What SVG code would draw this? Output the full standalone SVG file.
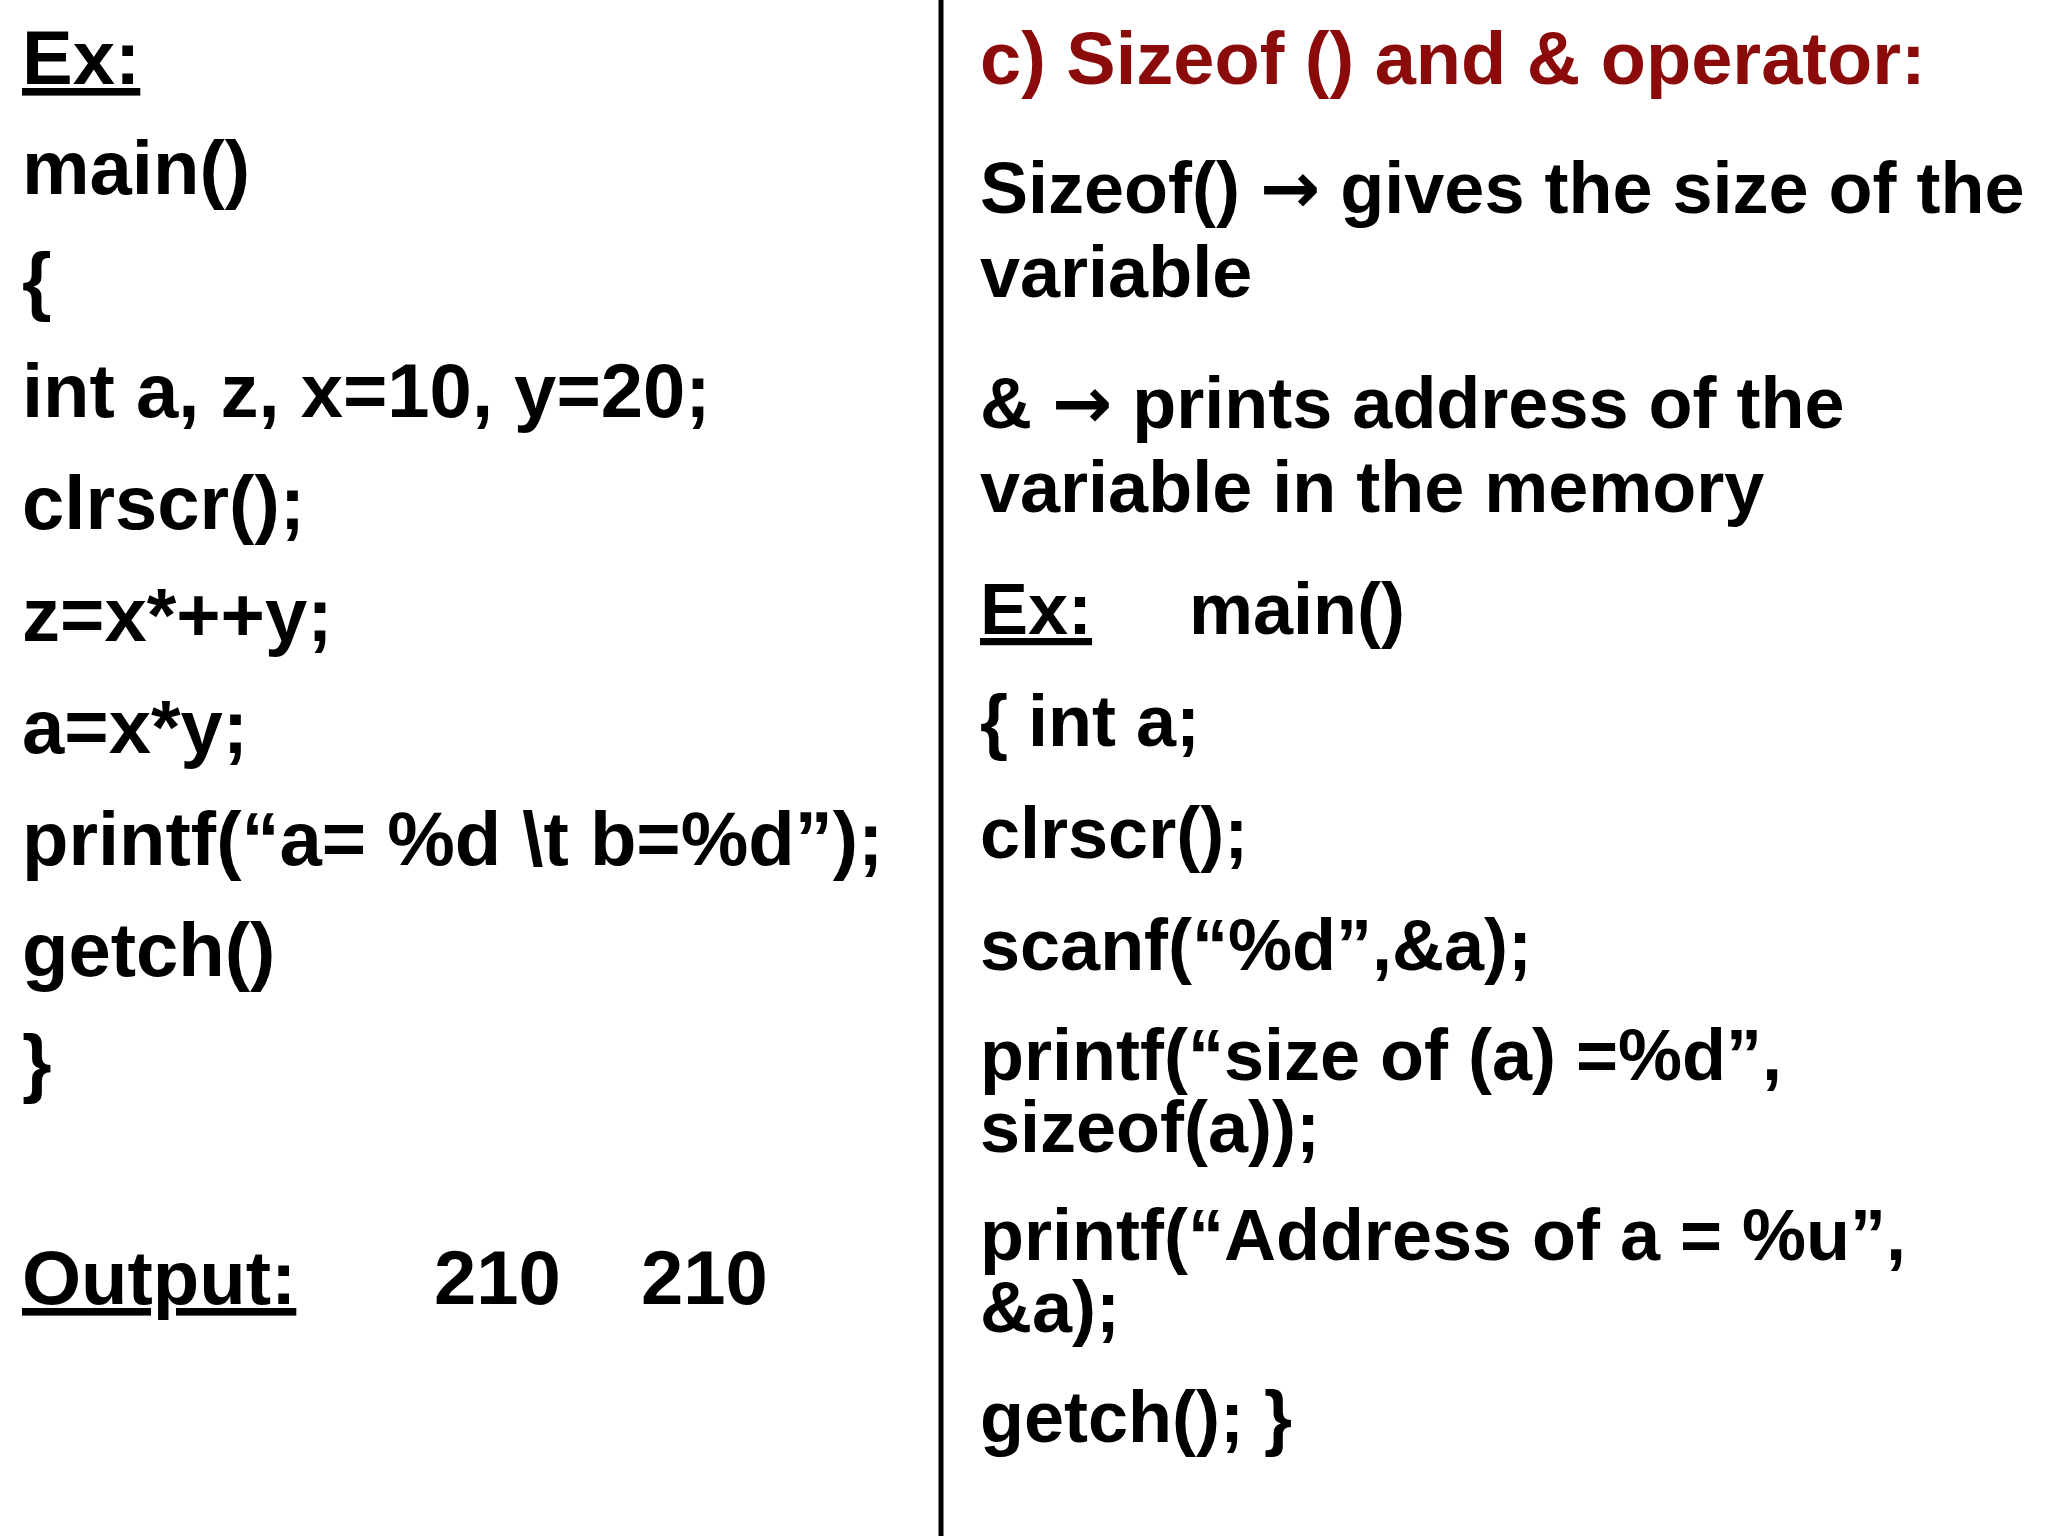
<svg xmlns="http://www.w3.org/2000/svg" width="2048" height="1536" viewBox="0 0 2048 1536">
<style>
text{font-family:"Liberation Sans",Arial,sans-serif;font-weight:bold;font-size:76px;fill:#000}
.r{font-size:72px}
.h{font-size:74px}
.u{text-decoration:underline}
.t{fill:#8B0A0A}
.a{font-family:"DejaVu Sans",sans-serif;font-size:72px}
</style>
<rect width="2048" height="1536" fill="#fff"/>
<line x1="941" y1="0" x2="941" y2="1536" stroke="#000" stroke-width="5"/>
<g id="left">
<text x="22" y="84" class="u">Ex:</text>
<text x="22" y="194">main()</text>
<text x="22" y="306">{</text>
<text x="22" y="417">int a, z, x=10, y=20;</text>
<text x="22" y="529">clrscr();</text>
<text x="22" y="641">z=x*++y;</text>
<text x="22" y="753">a=x*y;</text>
<text x="22" y="865">printf(“a= %d \t b=%d”);</text>
<text x="22" y="976">getch()</text>
<text x="22" y="1088">}</text>
<text x="22" y="1304" class="u">Output:</text>
<text x="434" y="1304">210</text>
<text x="641" y="1304">210</text>
</g>
<g id="right" class="r">
<text x="980" y="84" class="t h">c) Sizeof () and &amp; operator:</text>
<text x="980" y="213" class="r">Sizeof() <tspan class="a">→</tspan> gives the size of the</text>
<text x="980" y="297" class="r">variable</text>
<text x="980" y="428" class="r">&amp;  <tspan class="a">→</tspan> prints address of the</text>
<text x="980" y="512" class="r">variable in the memory</text>
<text x="980" y="634" class="r u">Ex:</text>
<text x="1189" y="634" class="r">main()</text>
<text x="980" y="746" class="r">{ int a;</text>
<text x="980" y="858" class="r">clrscr();</text>
<text x="980" y="970" class="r">scanf(“%d”,&amp;a);</text>
<text x="980" y="1080" class="r">printf(“size of (a) =%d”,</text>
<text x="980" y="1152" class="r">sizeof(a));</text>
<text x="980" y="1260" class="r">printf(“Address of a = %u”,</text>
<text x="980" y="1332" class="r">&amp;a);</text>
<text x="980" y="1442" class="r">getch(); }</text>
</g>
</svg>
